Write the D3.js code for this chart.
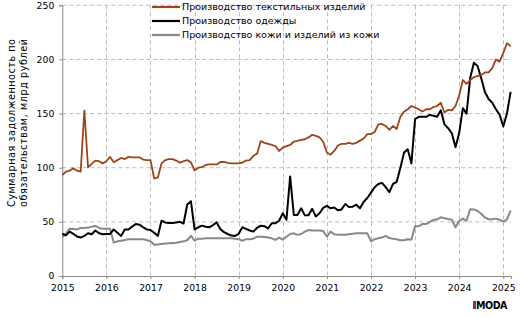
<!DOCTYPE html>
<html>
<head>
<meta charset="utf-8">
<script src="https://cdn.jsdelivr.net/npm/d3@7"></script>
<style>
  body { margin: 0; background: #fff; }
  svg { display: block; font-family: 'DejaVu Sans', Verdana, sans-serif; }
</style>
</head>
<body>
<div id="root"></div>
<script>
// monthly values, Jan 2015 .. Mar 2025, bln rub
const startYear = 2015;
const textiles = [
  93.3, 96.4, 97.3, 99.5, 97.3, 96.4, 152.8, 100.4, 103.5, 106.6, 106, 104,
  106, 110, 105, 107, 109, 108, 110, 109.5, 109.5, 109.6, 107.5, 107,
  107, 90, 91, 104, 107, 108, 108, 106.6, 104.7, 106, 107, 105,
  97.5, 100, 100.5, 102.6, 103, 103, 103, 105.3, 105.3, 104.4, 104, 104,
  104, 104.7, 106.6, 107, 111, 113, 124.5, 123, 122, 121, 120, 115.5,
  118.6, 120, 121, 124, 124.7, 125.7, 126.3, 128, 130.4, 129.4, 128, 124,
  114, 112, 115.5, 120.5, 122, 122, 123, 122, 123, 125, 127, 131,
  131, 133, 140, 140.4, 138.6, 135, 138.6, 135.8, 147, 151.8, 154, 157,
  155.5, 154, 152, 154, 154, 156, 157, 160, 151, 153.5, 153, 157,
  167, 181, 177.4, 181, 183.6, 184.5, 185.5, 188, 188, 192, 200, 198,
  206, 215, 212
];
const clothing = [
  39, 37.5, 41, 39, 36.5, 35.5, 37, 39.5, 38.5, 42, 39.5, 38.5,
  38.8, 38.8, 43, 40, 37, 43, 43, 45.6, 48, 47.4, 45, 43,
  42.5, 40, 37, 51, 49.5, 49, 49, 49.5, 50, 48.5, 66, 69,
  43, 45, 46.5, 45.5, 45, 47, 49.5, 43.5, 40.5, 38.8, 37.3, 37,
  39, 45, 43.5, 42, 41, 44.5, 46.5, 46, 44, 48.7, 48.7, 51,
  58, 52, 92, 56.4, 56.4, 62.5, 56, 56, 62, 55, 58, 63,
  64.7, 62.5, 63.2, 60.7, 61.5, 66.5, 63.7, 64, 65.8, 62.5, 68.4, 72,
  77, 82, 85, 86, 82, 77.5, 85, 87, 100, 114, 117, 104,
  145, 147, 147, 147, 148.8, 148, 147, 153, 140, 136.5, 131.8, 119,
  132, 155, 150, 183, 197, 194, 182.6, 170, 163.5, 160, 154, 149,
  138, 150, 170
];
const leather = [
  35.7, 39.4, 43.7, 43.4, 43, 44.4, 44.4, 44.7, 45.6, 46.2, 44.4, 43.7,
  43.7, 43.7, 31, 32, 32.6, 33.2, 33.9, 33.9, 33.9, 33.9, 33.9, 33.2,
  32, 28.8, 29.2, 29.6, 30, 30.2, 30.5, 30.8, 31.4, 32, 33, 37,
  32.6, 34.5, 34.5, 34.8, 34.8, 34.8, 34.8, 34.8, 34.8, 34.8, 34.8, 34.5,
  34, 32.6, 34, 34, 34.5, 36.3, 36.3, 36, 35.5, 34.8, 33.3, 35.5,
  33.5, 36.3, 38.8, 39.4, 38, 38.8, 41, 42.5, 42, 42, 42, 41.5,
  36.5, 41, 38.5, 38.2, 38, 38, 38.5, 39, 39.4, 39.4, 39.4, 39.4,
  32, 34, 34.8, 35.5, 37, 35, 34.5, 34, 33, 33, 34, 33.5,
  46, 46, 48, 48, 50, 51.7, 52.4, 54.2, 53.3, 52.7, 52, 45,
  51, 53, 51, 61.6, 61.5, 60, 57.5, 54, 52.4, 52.4, 53, 52,
  50.2, 52.4, 60.4
];
const seriesNames = ['Производство текстильных изделий', 'Производство одежды', 'Производство кожи и изделий из кожи'];
const seriesColors = ['#9e441b', '#000000', '#888888'];
const yTicks = [0, 50, 100, 150, 200, 250];
const xTicks = [2015, 2016, 2017, 2018, 2019, 2020, 2021, 2022, 2023, 2024, 2025];
const yTitle = ['Суммарная задолженность по', 'обязательствам, млрд рублей'];

//-----------------------------------------------------------------------
const chartWidth = 520;
const chartHeight = 317;
const padLeft = 62.3, padRight = 511, padTop = 5.3, padBottom = 276;

const svg = d3.select('#root')
  .append('svg')
  .attr('width', chartWidth)
  .attr('height', chartHeight);

const xScale = d3.scaleLinear()
  .domain([2015, 2025.175])
  .range([padLeft, padRight]);
const yScale = d3.scaleLinear()
  .domain([0, 250])
  .range([padBottom, padTop]);

// grid
svg.append('g')
  .selectAll('line')
  .data(yTicks.slice(1))
  .enter()
  .append('line')
  .attr('x1', padLeft).attr('x2', padRight)
  .attr('y1', d => yScale(d)).attr('y2', d => yScale(d))
  .attr('stroke', '#bdbdbd')
  .attr('stroke-dasharray', '4,3');
svg.append('g')
  .selectAll('line')
  .data(xTicks.slice(1))
  .enter()
  .append('line')
  .attr('x1', d => Math.round(xScale(d)) + 0.5).attr('x2', d => Math.round(xScale(d)) + 0.5)
  .attr('y1', padTop).attr('y2', padBottom)
  .attr('stroke', '#bdbdbd')
  .attr('stroke-dasharray', '4,3');

// axes
const yAxis = d3.axisLeft(yScale).tickValues(yTicks).tickSize(3).tickPadding(5).tickFormat(d3.format('d'));
const xAxis = d3.axisBottom(xScale).tickValues(xTicks).tickSize(3).tickPadding(5).tickFormat(d3.format('d'));

const gy = svg.append('g')
  .attr('transform', `translate(${padLeft}, 0)`)
  .call(yAxis);
const gx = svg.append('g')
  .attr('transform', `translate(0, ${padBottom})`)
  .call(xAxis);
[gx, gy].forEach(g => {
  g.select('.domain').attr('stroke', '#8a8a8a');
  g.selectAll('.tick line').attr('stroke', '#8a8a8a');
  g.selectAll('.tick text')
    .attr('fill', '#000')
    .style('font-family', "'DejaVu Sans', Verdana, sans-serif")
    .style('font-size', '9.3px');
});

// y title
yTitle.forEach((t, i) => {
  svg.append('text')
    .attr('transform', `translate(${15 + i * 12}, 123) rotate(-90)`)
    .attr('text-anchor', 'middle')
    .attr('textLength', 168)
    .attr('lengthAdjust', 'spacing')
    .style('font-size', '9.6px')
    .text(t);
});

// lines
const line = d3.line()
  .x((d, i) => xScale(startYear + i / 12))
  .y(d => yScale(d));

const allSeries = [textiles, clothing, leather];
const widths = [1.8, 2, 2];
[leather, clothing, textiles].forEach(s => {
  const k = allSeries.indexOf(s);
  svg.append('path')
    .datum(s)
    .attr('fill', 'none')
    .attr('stroke', seriesColors[k])
    .attr('stroke-width', widths[k])
    .attr('stroke-linejoin', 'round')
    .attr('d', line);
});

// legend
const legend = svg.append('g');
seriesNames.forEach((name, i) => {
  const y = 7 + i * 14;
  legend.append('line')
    .attr('x1', 152).attr('x2', 180)
    .attr('y1', y).attr('y2', y)
    .attr('stroke', seriesColors[i])
    .attr('stroke-width', 2.2);
  legend.append('text')
    .attr('x', 182)
    .attr('y', y + 3.4)
    .style('font-size', '9.5px')
    .text(name);
});

// logo
svg.append('rect')
  .attr('x', 473).attr('y', 301).attr('width', 3).attr('height', 8)
  .attr('fill', '#7a3b52');
svg.append('text')
  .attr('x', 476)
  .attr('y', 309)
  .attr('textLength', 31)
  .attr('lengthAdjust', 'spacingAndGlyphs')
  .style('font-size', '10px')
  .style('font-weight', 'bold')
  .style('letter-spacing', '-0.5px')
  .text('MODA');
</script>
</body>
</html>
